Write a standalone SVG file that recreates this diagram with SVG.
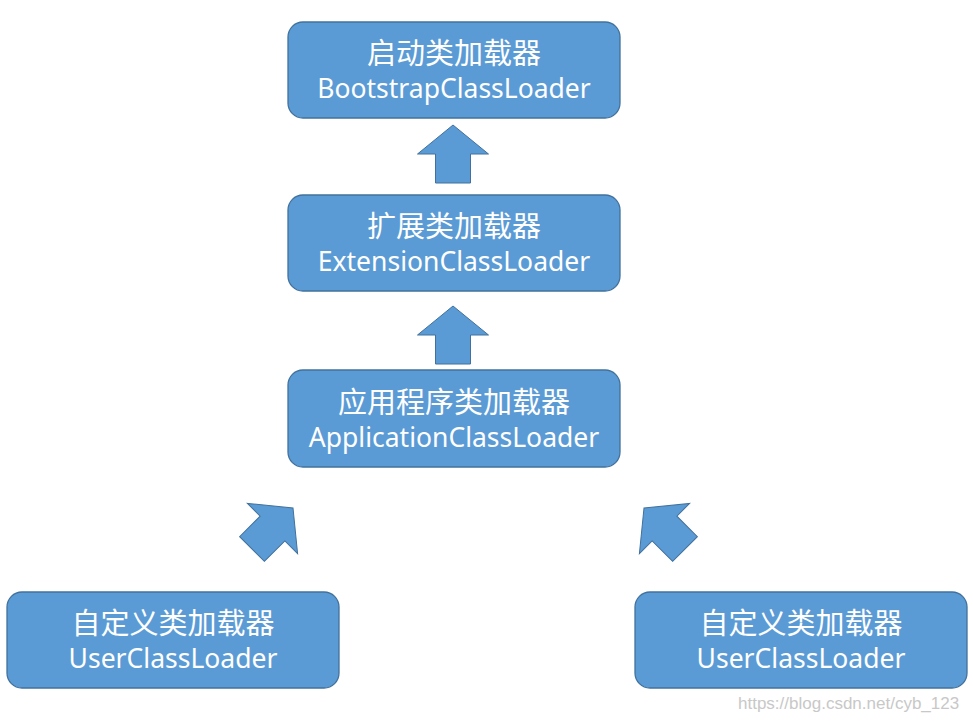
<svg xmlns="http://www.w3.org/2000/svg" width="973" height="722" viewBox="0 0 973 722">
<style>
.box{fill:#5B9BD5;stroke:#41719C;stroke-width:1.3}
.arr{fill:#5B9BD5;stroke:#41719C;stroke-width:1}
.zh{font-family:"Noto Sans CJK SC","Microsoft YaHei",sans-serif;font-size:29px;fill:#fff;text-anchor:middle}
.en{font-family:"Noto Sans","Open Sans",sans-serif;font-size:26.5px;fill:#fff;text-anchor:middle}
.wm{font-family:"Liberation Sans",Arial,sans-serif;font-size:17px;fill:#c8c8c8}
</style>
<defs>
<path id="up" d="M0,0 L35.5,29 L17.5,29 L17.5,58 L-17.5,58 L-17.5,29 L-35.5,29 Z"/>
</defs>
<rect width="973" height="722" fill="#fff"/>
<g id="connectors">
<use href="#up" class="arr" transform="translate(453,125)"/>
<use href="#up" class="arr" transform="translate(453,306)"/>
<use href="#up" class="arr" transform="translate(293,508) rotate(45)"/>
<use href="#up" class="arr" transform="translate(644,508) rotate(-45)"/>
</g>
<g id="bootstrap">
<rect class="box" x="288" y="22" width="332" height="96" rx="15"/>
<text class="zh" x="454" y="64">启动类加载器</text>
<text class="en" x="454" y="98">BootstrapClassLoader</text>
</g>
<g id="extension">
<rect class="box" x="288" y="195" width="332" height="96" rx="15"/>
<text class="zh" x="454" y="237">扩展类加载器</text>
<text class="en" x="454" y="271">ExtensionClassLoader</text>
</g>
<g id="application">
<rect class="box" x="288" y="370" width="332" height="97" rx="15"/>
<text class="zh" x="454" y="413">应用程序类加载器</text>
<text class="en" x="454" y="447">ApplicationClassLoader</text>
</g>
<g id="user1">
<rect class="box" x="7" y="592" width="332" height="96" rx="15"/>
<text class="zh" x="173" y="634">自定义类加载器</text>
<text class="en" x="173" y="668">UserClassLoader</text>
</g>
<g id="user2">
<rect class="box" x="635" y="592" width="332" height="96" rx="15"/>
<text class="zh" x="801" y="634">自定义类加载器</text>
<text class="en" x="801" y="668">UserClassLoader</text>
</g>
<text class="wm" x="738" y="709">https://blog.csdn.net/cyb_123</text>
</svg>
